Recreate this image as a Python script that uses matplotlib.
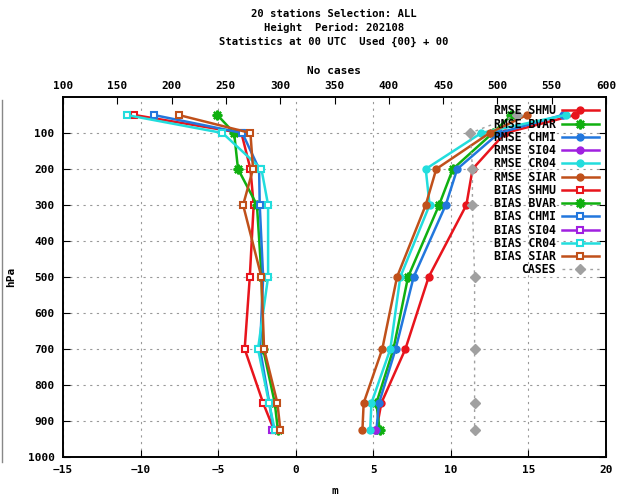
import numpy as np
import matplotlib
matplotlib.use("Agg")
import matplotlib.pyplot as plt
from matplotlib.lines import Line2D

plt.rcParams['font.family'] = ['DejaVu Sans Mono']
plt.rcParams['font.weight'] = 'bold'
plt.rcParams['font.size'] = 8

# pressure levels (hPa)
levels = [50, 100, 200, 300, 500, 700, 850, 925]

# RMSE per station (m)
rmse_shmu = [18.0, 13.5, 11.4, 11.0, 8.57, 7.07, 5.52, 5.2]
rmse_bvar = [13.9, 12.7, 10.13, 9.24, 7.24, 6.3, 5.2, 5.41]
rmse_chmi = [17.2, 13.1, 10.41, 9.67, 7.6, 6.44, 5.37, 5.2]
rmse_si04 = [5.1]
rmse_cr04 = [17.4, 11.96, 8.38, 8.63, 6.74, 6.1, 4.88, 4.8]
rmse_siar = [14.9, 12.5, 9.06, 8.38, 6.53, 5.58, 4.38, 4.3]

# BIAS per station (m)
bias_shmu = [-10.4, -3.5, -2.92, -2.71, -2.96, -3.29, -2.1, -1.4]
bias_bvar = [-5.05, -3.97, -3.72, -2.5, -2.2, -2.1, -1.35, -1.15]
bias_chmi = [-9.15, -3.44, -2.36, -2.32, -2.1, -2.3, -1.7, -1.42]
bias_si04 = [-1.5]
bias_cr04 = [-10.9, -4.72, -2.21, -1.78, -1.78, -2.43, -1.72, -1.35]
bias_siar = [-7.54, -2.92, -2.75, -3.39, -2.21, -2.04, -1.18, -0.99]
si04_levels = [925]

# number of cases
cases = [518, 475, 477, 477, 479, 479, 479, 479]

stations = ['SHMU', 'BVAR', 'CHMI', 'SI04', 'CR04', 'SIAR']
colors = ['#e8141c', '#10b010', '#2277dd', '#a020e0', '#22dddd', '#c0501a']
rmse = [rmse_shmu, rmse_bvar, rmse_chmi, rmse_si04, rmse_cr04, rmse_siar]
bias = [bias_shmu, bias_bvar, bias_chmi, bias_si04, bias_cr04, bias_siar]

fig = plt.figure(figsize=(6.35, 4.98), dpi=100)
ax = fig.add_axes([63/635, 41/498, 543/635, 360/498])

handles = []
star = (8, 2, 0)
for name, c, vals in zip(stations, colors, rmse):
    lv = si04_levels if name == 'SI04' else levels
    if name == 'BVAR':
        h, = ax.plot(vals, lv, color=c, lw=1.8, marker=star, ms=7, mew=1.6,
                     label='RMSE ' + name)
    else:
        h, = ax.plot(vals, lv, color=c, lw=1.8, marker='o', ms=5,
                     label='RMSE ' + name)
    handles.append(h)
for name, c, vals in zip(stations, colors, bias):
    lv = si04_levels if name == 'SI04' else levels
    if name == 'BVAR':
        h, = ax.plot(vals, lv, color=c, lw=1.8, marker=star, ms=7, mew=1.6,
                     label='BIAS ' + name)
    else:
        h, = ax.plot(vals, lv, color=c, lw=1.8, marker='s', ms=5, mew=1.5,
                     mfc='white', label='BIAS ' + name)
    handles.append(h)

ax.set_xlim(-15, 20)
ax.set_ylim(1000, 0)
ax.set_xticks(np.arange(-15, 21, 5))
ax.set_yticks(np.arange(100, 1001, 100))
ax.tick_params(direction='in', top=True, right=True, length=5, pad=6)
ax.grid(True, color='#999999', linestyle=(0, (2, 4)), lw=0.8)
ax.set_xlabel('m', labelpad=8, fontweight='bold')
ax.set_ylabel('hPa', labelpad=8, fontweight='bold')

ax2 = ax.twiny()
h, = ax2.plot(cases, levels, color='#a0a0a0', lw=1, linestyle=(0, (2, 3)),
              marker='D', ms=5, label='CASES')
handles.append(h)
ax2.set_xlim(100, 600)
ax2.set_xticks(np.arange(100, 601, 50))
ax2.tick_params(direction='in', length=5, pad=4)
ax2.set_xlabel('No cases', labelpad=5, fontweight='bold')

for a in (ax, ax2):
    for s in a.spines.values():
        s.set_linewidth(1.2)
    for t in a.get_xticklabels() + a.get_yticklabels():
        t.set_fontweight('bold')

ax2.legend(handles=handles, loc='upper right', markerfirst=False,
           frameon=False, handlelength=3.2, handletextpad=0.5,
           labelspacing=0.02, borderaxespad=0.25,
           prop={'weight': 'bold', 'size': 8.3})

fig.suptitle('20 stations Selection: ALL\nHeight  Period: 202108\n'
             'Statistics at 00 UTC  Used {00} + 00',
             x=334/635, y=0.981, fontsize=7.6, fontweight='bold',
             linespacing=1.45)

fig.add_artist(Line2D([2/635, 2/635], [36/498, 398/498], color='#888888', lw=1))

fig.savefig('out.png')
